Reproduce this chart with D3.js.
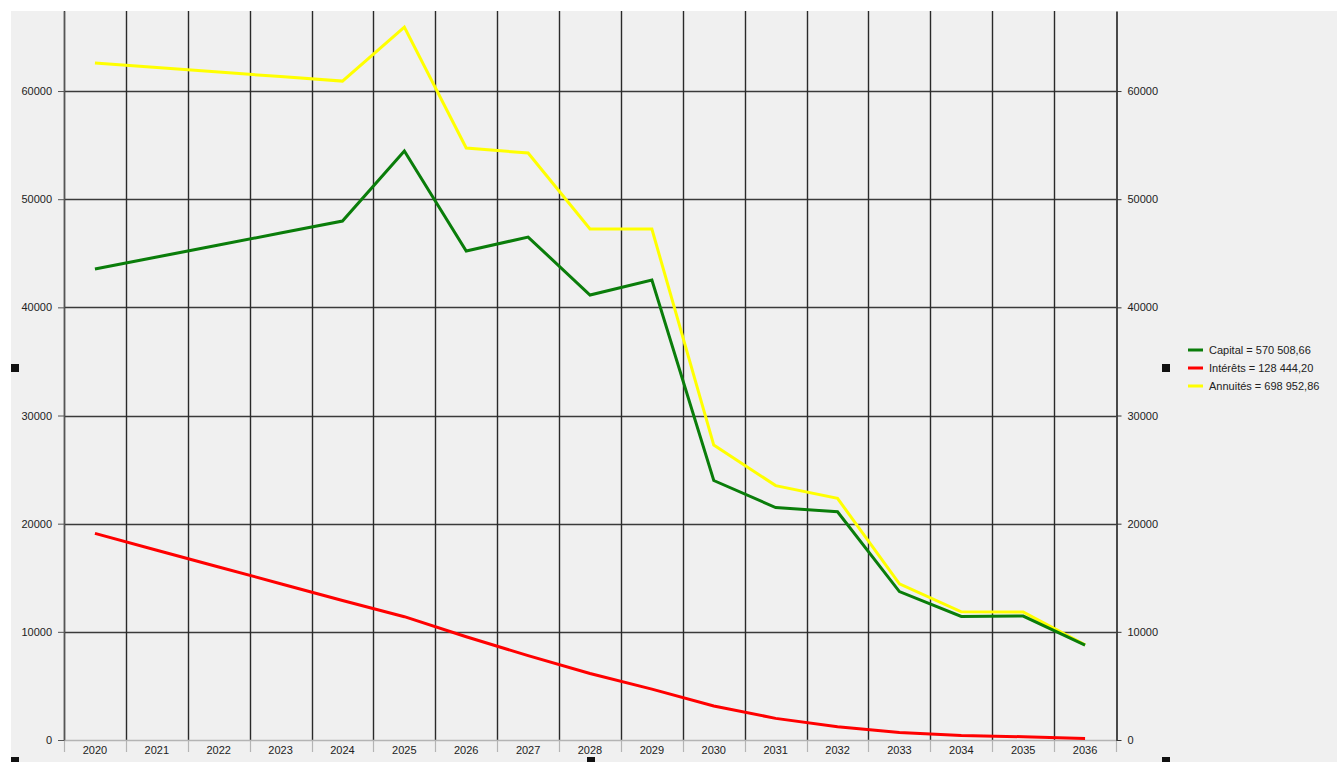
<!DOCTYPE html>
<html>
<head>
<meta charset="utf-8">
<script src="https://cdn.jsdelivr.net/npm/d3@7"></script>
<style>
  body { margin: 0; background: #fff; }
  svg text { font-family: "Liberation Sans", Arial, sans-serif; font-size: 11px; fill: #222; }
</style>
</head>
<body>
<div id="chart"></div>
<script>
const years = ["2020","2021","2022","2023","2024","2025","2026","2027","2028","2029","2030","2031","2032","2033","2034","2035","2036"];
const capital = [43540,44650,45760,46870,47980,54450,45210,46500,41140,42530,23990,21490,21100,13720,11420,11460,8780];
const interets = [19100,17550,16000,14450,12900,11400,9550,7800,6150,4700,3150,2000,1230,700,420,300,150];
const annuites = [62590,62170,61750,61340,60920,65910,54730,54270,47240,47240,27270,23520,22340,14440,11850,11830,8790];
const yTicks = [0,10000,20000,30000,40000,50000,60000];
const legendLabels = ["Capital = 570 508,66","Intérêts = 128 444,20","Annuités = 698 952,86"];

const width = 1337,
  height = 762;
const margin = { left: 64, right: 1116, top: 11, bottom: 740 };

const svg = d3
  .select("#chart")
  .append("svg")
  .attr("width", width)
  .attr("height", height);

// grey panel
svg.append("rect")
  .attr("x", 11).attr("y", 11)
  .attr("width", width - 11).attr("height", height - 11)
  .attr("fill", "#f0f0f0");

const x = d3.scaleBand().domain(years).range([margin.left, margin.right]).padding(0);
const y = d3.scaleLinear().domain([0, 67400]).range([margin.bottom, margin.top]);

// horizontal grid
svg.append("g")
  .selectAll("line")
  .data(yTicks.filter((d) => d > 0))
  .enter()
  .append("line")
  .attr("x1", margin.left).attr("x2", margin.right)
  .attr("y1", (d) => Math.round(y(d)) + 0.5).attr("y2", (d) => Math.round(y(d)) + 0.5)
  .attr("stroke", "#3a3a3a").attr("stroke-width", 1.3);

// vertical grid at band edges
const edges = years.map((d) => x(d));
svg.append("g")
  .selectAll("line")
  .data(edges)
  .enter()
  .append("line")
  .attr("x1", (d) => Math.round(d) + 0.5).attr("x2", (d) => Math.round(d) + 0.5)
  .attr("y1", margin.top).attr("y2", margin.bottom)
  .attr("stroke", "#2a2a2a").attr("stroke-width", 1.4);

// x axis (light grey) with ticks at band edges
const xAxis = svg.append("g").attr("transform", `translate(0,${margin.bottom})`);
xAxis.append("line")
  .attr("x1", margin.left).attr("x2", margin.right)
  .attr("y1", 0.5).attr("y2", 0.5)
  .attr("stroke", "#b4b4b4").attr("stroke-width", 1.5);
xAxis.selectAll(".tk")
  .data(edges.concat([margin.right]))
  .enter()
  .append("line")
  .attr("x1", (d) => Math.round(d) + 0.5).attr("x2", (d) => Math.round(d) + 0.5)
  .attr("y1", 0).attr("y2", 12)
  .attr("stroke", "#b4b4b4").attr("stroke-width", 1.2);
xAxis.selectAll("text")
  .data(years)
  .enter()
  .append("text")
  .attr("x", (d) => x(d) + x.bandwidth() / 2)
  .attr("y", 14)
  .attr("text-anchor", "middle")
  .text((d) => d);

// left axis
const leftAxis = svg.append("g")
  .attr("transform", `translate(${margin.left},0)`)
  .call(d3.axisLeft(y).tickValues(yTicks).tickFormat(d3.format("d")).tickSize(6).tickSizeOuter(0).tickPadding(6));
leftAxis.select(".domain").attr("stroke", "#555").attr("stroke-width", 1.4);
leftAxis.selectAll(".tick line").attr("stroke", "#555");
leftAxis.selectAll("text").style("font-size", "11px").attr("fill", "#222");

// right axis
const rightAxis = svg.append("g")
  .attr("transform", `translate(${margin.right + 0.5},0)`)
  .call(d3.axisRight(y).tickValues(yTicks).tickFormat(d3.format("d")).tickSize(5).tickSizeOuter(0).tickPadding(6));
rightAxis.select(".domain").attr("stroke", "#000").attr("stroke-width", 1.4);
rightAxis.selectAll(".tick line").attr("stroke", "#333");
rightAxis.selectAll("text").style("font-size", "11px").attr("fill", "#222");

// series lines
const series = [
  { values: capital, color: "#0a7d0a" },
  { values: interets, color: "#ff0000" },
  { values: annuites, color: "#ffff00" },
];
const line = d3.line()
  .x((d, i) => x(years[i]) + x.bandwidth() / 2)
  .y((d) => y(d));

// draw yellow first, then green, then red
[series[2], series[0], series[1]].forEach((s) => {
  svg.append("path")
    .datum(s.values)
    .attr("d", line)
    .attr("fill", "none")
    .attr("stroke", s.color)
    .attr("stroke-width", 3)
    .attr("stroke-linejoin", "miter");
});

// legend
const legend = svg.append("g").attr("transform", "translate(1188,350)");
legend.selectAll("line")
  .data(series)
  .enter()
  .append("line")
  .attr("x1", 0).attr("x2", 15)
  .attr("y1", (d, i) => i * 18).attr("y2", (d, i) => i * 18)
  .attr("stroke", (d) => d.color)
  .attr("stroke-width", 3);
legend.selectAll("text")
  .data(legendLabels)
  .enter()
  .append("text")
  .attr("x", 21)
  .attr("y", (d, i) => i * 18 + 4)
  .text((d) => d);

// selection handles
const handles = [[11, 364], [1162, 364], [11, 757], [587, 757], [1162, 757]];
svg.selectAll(".handle")
  .data(handles)
  .enter()
  .append("rect")
  .attr("x", (d) => d[0]).attr("y", (d) => d[1])
  .attr("width", 8).attr("height", 8)
  .attr("fill", "#111");
</script>
</body>
</html>
